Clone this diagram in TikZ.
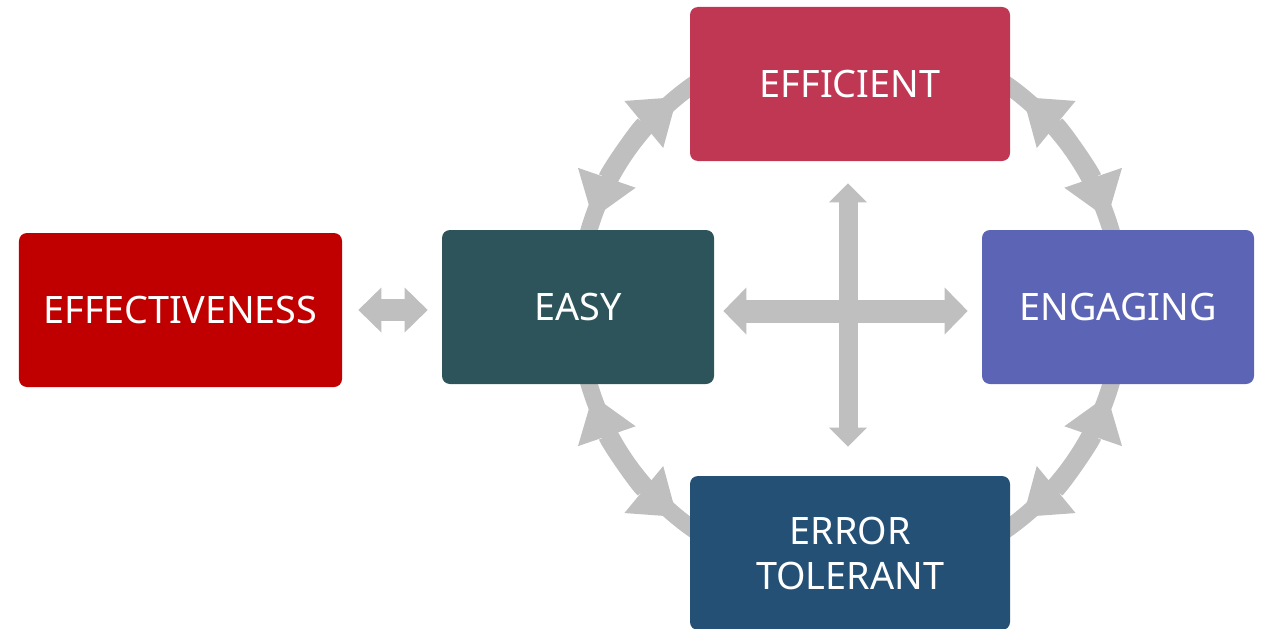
\documentclass[tikz,border=0pt]{standalone}
\usepackage{fontspec}
\setmainfont{Noto Sans}
\usepackage{xcolor}
\usetikzlibrary{arrows.meta}
\definecolor{ringgray}{RGB}{191,191,191}
\definecolor{effred}{RGB}{192,0,0}
\definecolor{easyteal}{RGB}{46,84,91}
\definecolor{effrose}{RGB}{192,55,84}
\definecolor{engviolet}{RGB}{92,100,181}
\definecolor{tolblue}{RGB}{36,80,118}
\tikzset{
  % coloured box with a white label
  box/.style={rounded corners=1.6mm, minimum height=3.08cm, inner sep=0pt,
    text=white, align=center, font=\fontsize{21.5}{25.6}\selectfont},
  % grey band of the ring
  ring/.style={draw=ringgray, line width=3.4mm},
  % ring piece with a tip at both ends
  ring arrow/.style={ring, <->,
    >={Triangle[width=12.2mm,length=8.6mm,line width=0pt]}},
  % straight grey block arrow: shaft, tip width, tip length
  block/.style n args={3}{draw=ringgray, line width=#1, <->,
    >={Triangle[width=#2,length=#3,line width=0pt]}},
}

\begin{document}
\begin{tikzpicture}[x=0.2mm,y=0.2mm]
    \useasboundingbox (0,0) rectangle (1264,628);
    \coordinate (hub) at (850,321);

    % the ring behind the boxes
    \draw[ring] (hub) circle[radius=272];
    \foreach \s/\e in {19/50.5, 129.5/161, 199/230.5, 309.5/341}
      \draw[ring arrow] ([shift={(\s:272)}]hub) arc[start angle=\s, end angle=\e, radius=272];

    \node[box, fill=effred, minimum width=6.46cm] (effectiveness) at (180.5,318) {EFFECTIVENESS};
    \node[box, fill=easyteal, minimum width=5.44cm] (easy) at (578,321) {EASY};
    \node[box, fill=effrose, minimum width=6.4cm] (efficient) at (850,544) {EFFICIENT};
    \node[box, fill=engviolet, minimum width=5.44cm] (engaging) at (1118,321) {ENGAGING};
    \node[box, fill=tolblue, minimum width=6.4cm] (tolerant) at (850,75) {ERROR\\TOLERANT};

    \draw[block={4.4mm}{9mm}{4.6mm}, shorten <=3.2mm, shorten >=2.8mm]
      (effectiveness.east) -- (effectiveness.east -| easy.west);
    \draw[block={4.6mm}{9.4mm}{4.6mm}, shorten <=1.8mm, shorten >=2.8mm]
      ([yshift=-0.8mm]easy.east) -- ([yshift=-0.8mm]engaging.west);
    \draw[block={3.8mm}{7.6mm}{3.8mm}, shorten <=4.4mm, shorten >=5.8mm]
      ([xshift=-0.4mm]efficient.south) -- ([xshift=-0.4mm]tolerant.north);
\end{tikzpicture}
\end{document}
